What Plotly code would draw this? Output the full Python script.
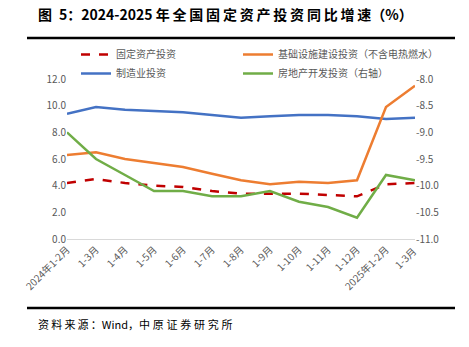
import plotly.graph_objects as go

categories = ["2024年1-2月", "1-3月", "1-4月", "1-5月", "1-6月", "1-7月", "1-8月",
              "1-9月", "1-10月", "1-11月", "1-12月", "2025年1-2月", "1-3月 "]
fai = [4.2, 4.5, 4.2, 4.0, 3.9, 3.6, 3.4, 3.4, 3.4, 3.3, 3.2, 4.1, 4.2]
manufacturing = [9.4, 9.9, 9.7, 9.6, 9.5, 9.3, 9.1, 9.2, 9.3, 9.3, 9.2, 9.0, 9.1]
infrastructure = [6.3, 6.5, 6.0, 5.7, 5.4, 4.9, 4.4, 4.1, 4.3, 4.2, 4.4, 9.9, 11.5]
real_estate = [-9.0, -9.5, -9.8, -10.1, -10.1, -10.2, -10.2, -10.1, -10.3, -10.4, -10.6, -9.8, -9.9]

left_ticks = [0, 2, 4, 6, 8, 10, 12]
right_ticks = [-11.0, -10.5, -10.0, -9.5, -9.0, -8.5, -8.0]

W, H = 469, 347
L, R, T, B = 67, 54, 79, 108

fig = go.Figure()
fig.add_trace(go.Scatter(x=categories, y=fai, name="固定资产投资", mode="lines",
                         line=dict(color="#C00000", width=2.5, dash="dash"), legend="legend"))
fig.add_trace(go.Scatter(x=categories, y=manufacturing, name="制造业投资", mode="lines",
                         line=dict(color="#4472C4", width=2.5), legend="legend"))
fig.add_trace(go.Scatter(x=categories, y=infrastructure, name="基础设施建设投资（不含电热燃水）", mode="lines",
                         line=dict(color="#ED7D31", width=2.5), legend="legend2"))
fig.add_trace(go.Scatter(x=categories, y=real_estate, name="房地产开发投资（右轴）", mode="lines",
                         line=dict(color="#70AD47", width=2.5), yaxis="y2", legend="legend2"))

pw = W - L - R
ph = H - T - B
def px(x):
    return (x - L) / pw
def py(y):
    return (H - B - y) / ph

def spaced(s, sp="\u2009"):
    return sp.join(list(s))

tick_font = dict(family="Noto Sans CJK SC, sans-serif", size=10, color="#595959")
legend_font = dict(family="Noto Sans CJK SC, sans-serif", size=10, color="#595959")

fig.update_layout(
    width=W, height=H,
    margin=dict(l=L, r=R, t=T, b=B),
    paper_bgcolor="white", plot_bgcolor="white",
    showlegend=True,
    xaxis=dict(showgrid=False, showline=True, linecolor="#D9D9D9", linewidth=1,
               ticks="", tickangle=-45, tickfont=tick_font, zeroline=False),
    yaxis=dict(range=[0, 12], tickvals=left_ticks, ticktext=[f"{v:.1f}" for v in left_ticks],
               showgrid=False, zeroline=False, showline=False, ticks="", tickfont=tick_font),
    yaxis2=dict(range=[-11, -8], tickvals=right_ticks, ticktext=[f"{v:.1f}" for v in right_ticks],
                overlaying="y", side="right", showgrid=False, zeroline=False, showline=False,
                ticks="", tickfont=tick_font),
    legend=dict(x=px(76), y=py(40), xanchor="left", yanchor="top", orientation="v",
                font=legend_font, bgcolor="rgba(0,0,0,0)", tracegroupgap=0, itemwidth=30),
    legend2=dict(x=px(238), y=py(40), xanchor="left", yanchor="top", orientation="v",
                 font=legend_font, bgcolor="rgba(0,0,0,0)", tracegroupgap=0, itemwidth=30),
    shapes=[
        dict(type="line", xref="paper", yref="paper", x0=px(27), x1=px(455), y0=py(38), y1=py(38),
             line=dict(color="black", width=2.5)),
        dict(type="line", xref="paper", yref="paper", x0=px(27), x1=px(455), y0=py(308), y1=py(308),
             line=dict(color="black", width=2.5)),
    ],
    annotations=[
        dict(text="<b>图\u2002" + "5：2024-2025 " + spaced("年全国固定资产投资同比增速") + "（%）</b>",
             xref="paper", yref="paper",
             x=px(36), y=py(14), xanchor="left", yanchor="middle", showarrow=False,
             font=dict(family="Noto Sans CJK SC, sans-serif", size=14, color="black")),
        dict(text=spaced("资料来源：") + "Wind，" + spaced("中原证券研究所", "\u2005"),
             xref="paper", yref="paper",
             x=px(36), y=py(324), xanchor="left", yanchor="middle", showarrow=False,
             font=dict(family="Noto Sans CJK SC, sans-serif", size=11, color="black")),
    ],
)

fig.write_html("out.html")
